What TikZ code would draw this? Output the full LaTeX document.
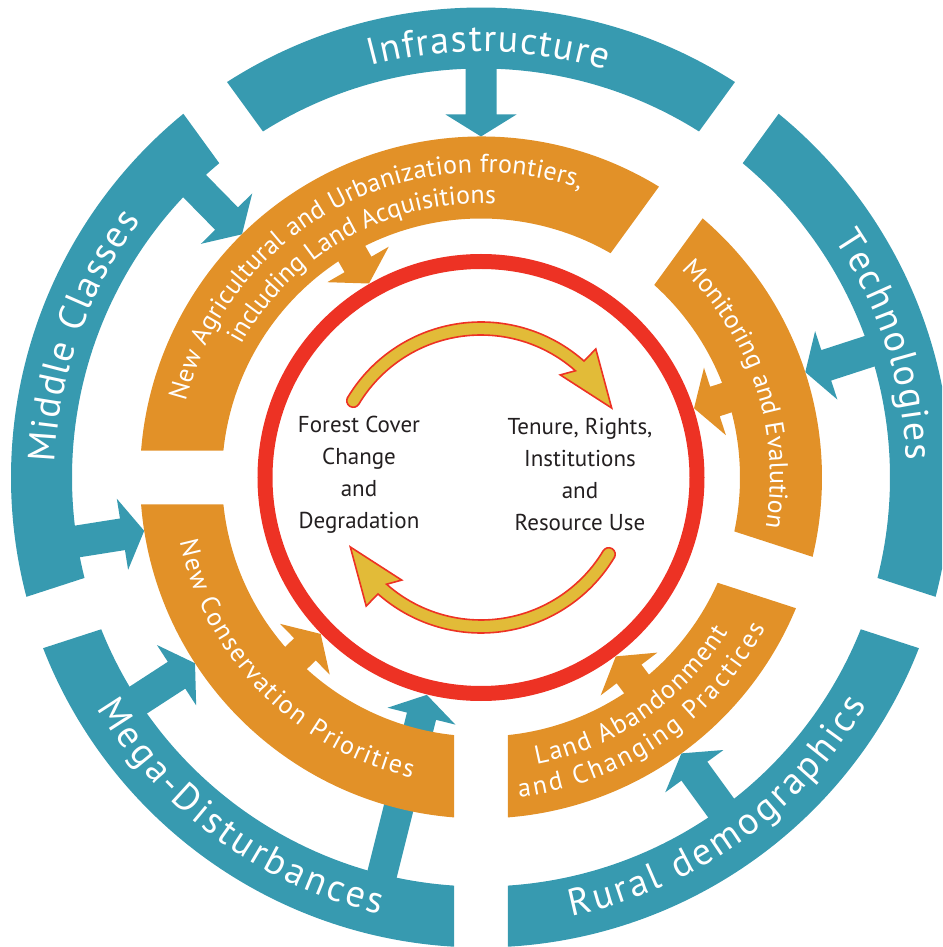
\documentclass[tikz,border=0pt]{standalone}
\usepackage{fontspec}
\setmainfont{PT Sans}
\usetikzlibrary{decorations.text,calc}
\definecolor{tealc}{RGB}{55,154,176}
\definecolor{orngc}{RGB}{226,145,40}
\definecolor{redc}{RGB}{237,50,36}
\definecolor{yelc}{RGB}{226,187,56}
\definecolor{txtc}{RGB}{35,31,32}
% ring segment: colour, inner r, outer r, gap angle 1, gap angle 2 (gap half width 27)
\newcommand{\ringseg}[5]{%
  \fill[#1] ({#4+asin(27/#3)}:#3) arc[start angle={#4+asin(27/#3)}, end angle={#5-asin(27/#3)}, radius=#3]
    -- ({#5-asin(27/#2)}:#2) arc[start angle={#5-asin(27/#2)}, end angle={#4+asin(27/#2)}, radius=#2] -- cycle;}
% radial inward arrow: colour, angle, start r, tip r, half shaft, half head
\newcommand{\radarrow}[6]{%
  \fill[#1, rotate=#2] (#3,#5) -- ({#4+22},#5) -- ({#4+22},#6) -- (#4,0) -- ({#4+22},-#6) -- ({#4+22},-#5) -- (#3,-#5) -- cycle;}
% curved yellow arrow: start angle, head base angle, tip angle
\newcommand{\curvarrow}[3]{%
  \coordinate (hb) at (#2:150);
  \coordinate (ht) at (#3:148);
  \coordinate (hbb) at ($(hb)!-4pt!(ht)$);
  \filldraw[fill=yelc, draw=redc, line width=1.6, line join=miter]
    (#1:155.5) arc[start angle=#1, end angle=#2, radius=155.5]
    -- ($(hbb)!22pt!90:(ht)$) -- (ht) -- ($(hbb)!22pt!-90:(ht)$)
    -- (#2:142.5) arc[start angle=#2, end angle=#1, radius=142.5]
    arc[start angle={#1+180}, end angle=#1, radius=6.5] -- cycle;}
\tikzset{
  bigarc/.style={decorate, decoration={text along path, text align={fit to path}, text color=white,
    text={|\fontsize{38}{40}\selectfont|#1}}},
  smallarc/.style={decorate, decoration={text along path, text align={fit to path}, text color=white,
    text={|\fontsize{26}{28}\selectfont|#1}}},
  smallarcc/.style={decorate, decoration={text along path, text align=center, text color=white,
    text={|\fontsize{26}{28}\selectfont|#1}}},
  centretext/.style={align=center, text=txtc, font=\fontsize{23}{32}\selectfont}
}
\begin{document}
\begin{tikzpicture}[x=1pt,y=1pt]
\useasboundingbox (-481,-469.5) rectangle (461,477.5);
\clip (-481,-469.5) rectangle (461,477.5);
% teal arrows
\radarrow{tealc}{90}{430}{341}{15.5}{35.5}
\radarrow{tealc}{134.5}{430}{341}{16}{36}
\radarrow{tealc}{189}{430}{341}{16}{36}
\radarrow{tealc}{213}{430}{341}{16}{36}
\radarrow{tealc}{256}{430}{224}{15}{35}
\radarrow{tealc}{306}{430}{341}{16}{36}
\radarrow{tealc}{18}{430}{341}{16}{36}
% teal ring
\ringseg{tealc}{409}{470}{-18}{54}
\ringseg{tealc}{409}{470}{54}{126}
\ringseg{tealc}{409}{470}{126}{198}
\ringseg{tealc}{409}{470}{198}{270}
\ringseg{tealc}{409}{470}{270}{342}
% orange ring
\ringseg{orngc}{259}{341}{54}{180}
\ringseg{orngc}{259}{341}{180}{270}
\ringseg{orngc}{259}{341}{270}{342}
\ringseg{orngc}{259}{341}{-18}{54}
% orange arrows
\radarrow{orngc}{120}{275}{224}{15.5}{35.5}
\radarrow{orngc}{18}{275}{224}{15.5}{35.5}
\radarrow{orngc}{224.3}{275}{224}{15.5}{35.5}
\radarrow{orngc}{307}{275}{224}{15.5}{35.5}
% red circle
\draw[redc, line width=15] (0,0) circle[radius=216];
% yellow arrows
\curvarrow{149}{48.5}{28}
\curvarrow{-31}{-131.5}{-152}
% teal texts
\path[bigarc={Infrastructure}] (105:426) arc[start angle=105, end angle=73, radius=426];
\path[bigarc={Technologies}] (34:426) arc[start angle=34, end angle=2.3, radius=426];
\path[bigarc={Middle Classes}] (178:426) arc[start angle=178, end angle=143, radius=426];
\path[bigarc={Mega-Disturbances}] (211:448) arc[start angle=211, end angle=257, radius=448];
\path[bigarc={Rural demographics}] (-78.4:448) arc[start angle=-78.4, end angle=-30.5, radius=448];
% orange texts
\path[decorate, decoration={text along path, text align={fit to path}, text color=white,
  text={|\fontsize{26}{28}\selectfont|New Agricultural and Urbanization frontiers,}}]
  (165.5:305) arc[start angle=165.5, end angle=71, radius=305];
\path[smallarcc={including Land Acquisitions}] (170:274) arc[start angle=170, end angle=68, radius=274];
\path[smallarcc={Monitoring and Evalution}] (52:289) arc[start angle=52, end angle=-16, radius=289];
\path[smallarc={New Conservation Priorities}] (192:308) arc[start angle=192, end angle=257, radius=308];
\path[smallarc={Land Abandonment}] (-79:292) arc[start angle=-79, end angle=-32, radius=292];
\path[smallarc={and Changing Practices}] (-83.2:322) arc[start angle=-83.2, end angle=-27.8, radius=322];
% centre texts
\node[centretext] (forest) at (-122,3) {Forest Cover\\Change\\and\\Degradation};
\node[centretext] (tenure) at (99,3) {Tenure, Rights,\\Institutions\\and\\Resource Use};
\end{tikzpicture}
\end{document}
